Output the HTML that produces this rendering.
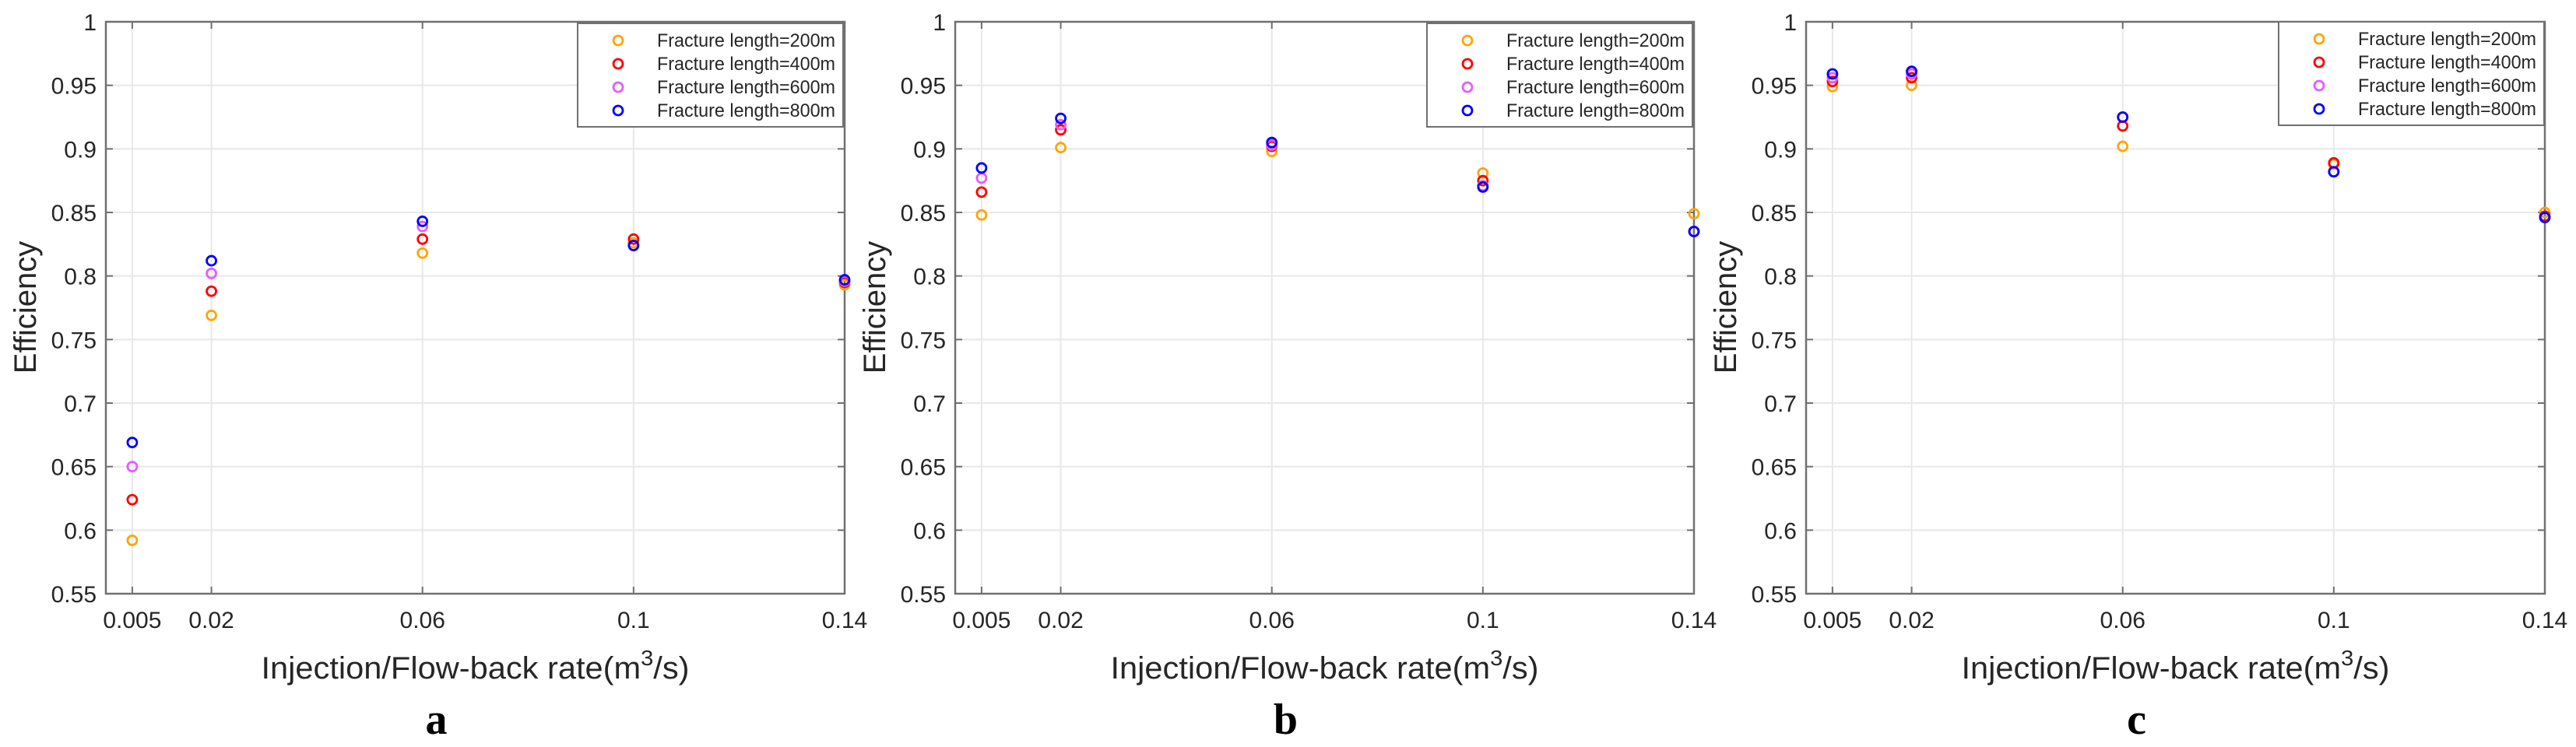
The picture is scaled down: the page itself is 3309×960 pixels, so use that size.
<!DOCTYPE html>
<html><head><meta charset="utf-8"><style>
html,body{margin:0;padding:0;background:#fff;}
svg{display:block;font-family:"Liberation Sans",Arial,sans-serif;}
</style></head><body>
<svg id="fig" xmlns="http://www.w3.org/2000/svg" width="3309" height="960" viewBox="0 0 3309 960"></svg>
<script>
const xTicks = [0.005, 0.02, 0.06, 0.1, 0.14];
const xTickLabels = ["0.005", "0.02", "0.06", "0.1", "0.14"];
const yTicks = [0.55, 0.6, 0.65, 0.7, 0.75, 0.8, 0.85, 0.9, 0.95, 1];
const yTickLabels = ["0.55", "0.6", "0.65", "0.7", "0.75", "0.8", "0.85", "0.9", "0.95", "1"];
const seriesNames = ["Fracture length=200m", "Fracture length=400m", "Fracture length=600m", "Fracture length=800m"];
const seriesColors = ["#ffa500", "#ff0000", "#e45cff", "#0000ff"];
const rates = [0.005, 0.02, 0.06, 0.1, 0.14];
const panelA200 = [0.592, 0.769, 0.818, 0.826, 0.793];
const panelA400 = [0.624, 0.788, 0.829, 0.829, 0.795];
const panelA600 = [0.650, 0.802, 0.839, 0.824, 0.796];
const panelA800 = [0.669, 0.812, 0.843, 0.824, 0.797];
const panelB200 = [0.848, 0.901, 0.898, 0.881, 0.849];
const panelB400 = [0.866, 0.915, 0.902, 0.875, 0.835];
const panelB600 = [0.877, 0.919, 0.903, 0.871, 0.835];
const panelB800 = [0.885, 0.924, 0.905, 0.870, 0.835];
const panelC200 = [0.949, 0.950, 0.902, 0.888, 0.850];
const panelC400 = [0.953, 0.956, 0.918, 0.889, 0.847];
const panelC600 = [0.956, 0.959, 0.925, 0.882, 0.846];
const panelC800 = [0.959, 0.961, 0.925, 0.882, 0.846];
const panelLetters = ["a", "b", "c"];

const NS = "http://www.w3.org/2000/svg";
const svg = document.getElementById("fig");
function mk(tag, attrs, parent) {
  const e = document.createElementNS(NS, tag);
  for (const k in attrs) e.setAttribute(k, attrs[k]);
  (parent || svg).appendChild(e);
  return e;
}
const panels = [
  {left: 136, data: [panelA200, panelA400, panelA600, panelA800], legTop: 30, legLeft: 742},
  {left: 1227, data: [panelB200, panelB400, panelB600, panelB800], legTop: 30, legLeft: 1833},
  {left: 2320, data: [panelC200, panelC400, panelC600, panelC800], legTop: 28, legLeft: 2927}
];
const W = 949, TOP = 28, BOT = 763;
panels.forEach((p, pi) => {
  const g = mk("g", {});
  
  
  const xs = v => p.left + (v / 0.14) * W;
  const ys = v => BOT - (v - 0.55) / 0.45 * (BOT - TOP);
  yTicks.forEach(t => {
    const l = mk("line", {x1: p.left, x2: p.left + W, y1: ys(t), y2: ys(t), stroke: "#e8e8e8", "stroke-width": 2}, g);
    
    
  });
  xTicks.forEach(t => {
    const l = mk("line", {x1: xs(t), x2: xs(t), y1: TOP, y2: BOT, stroke: "#e8e8e8", "stroke-width": 2}, g);
    
    
  });
  const box = mk("rect", {x: p.left, y: TOP, width: W, height: BOT - TOP, fill: "none", stroke: "#707070", "stroke-width": 2.5}, g);
  
  
  yTicks.forEach((t, i) => {
    mk("line", {x1: p.left, x2: p.left + 9, y1: ys(t), y2: ys(t), stroke: "#707070", "stroke-width": 2}, g);
    mk("line", {x1: p.left + W - 9, x2: p.left + W, y1: ys(t), y2: ys(t), stroke: "#707070", "stroke-width": 2}, g);
    const tx = mk("text", {x: p.left - 12, y: ys(t) + 11, "text-anchor": "end", "font-size": 30, fill: "#262626"}, g);
    tx.textContent = yTickLabels[i];
    
    
  });
  xTicks.forEach((t, i) => {
    mk("line", {x1: xs(t), x2: xs(t), y1: BOT - 9, y2: BOT, stroke: "#707070", "stroke-width": 2}, g);
    mk("line", {x1: xs(t), x2: xs(t), y1: TOP, y2: TOP + 9, stroke: "#707070", "stroke-width": 2}, g);
    const tx = mk("text", {x: xs(t), y: 807, "text-anchor": "middle", "font-size": 30, fill: "#262626"}, g);
    tx.textContent = xTickLabels[i];
    
    
  });
  const yl = mk("text", {x: 0, y: 0, "text-anchor": "middle", "font-size": 40, fill: "#262626", transform: `translate(${p.left - 90},395) rotate(-90)`}, g);
  yl.textContent = "Efficiency";
  
  
  const cx = p.left + W / 2;
  const xl = mk("text", {x: cx - 275, y: 872, "font-size": 40, fill: "#262626", textLength: 550, lengthAdjust: "spacingAndGlyphs"}, g);
  
  
  const t1 = mk("tspan", {}, xl); t1.textContent = "Injection/Flow-back rate(m";
  const t2 = mk("tspan", {dy: -17, "font-size": 28}, xl); t2.textContent = "3";
  const t3 = mk("tspan", {dy: 17}, xl); t3.textContent = "/s)";
  const letter = mk("text", {x: cx - 50, y: 943, "text-anchor": "middle", "font-size": 56, "font-weight": "bold", "font-family": "Liberation Serif, serif", fill: "#000"}, g);
  letter.textContent = panelLetters[pi];
  
  
  p.data.forEach((arr, si) => {
    arr.forEach((v, k) => {
      const c = mk("circle", {cx: xs(rates[k]), cy: ys(v), r: 6, fill: "none", stroke: seriesColors[si], "stroke-width": 2.8}, g);
      
      
    });
  });
  const lg = mk("g", {}, g);
  
  
  mk("rect", {x: p.legLeft, y: p.legTop, width: 341, height: 133, fill: "#fff", stroke: "#707070", "stroke-width": 2}, lg);
  seriesNames.forEach((n, si) => {
    const yy = p.legTop + 22 + si * 30;
    const mc = mk("circle", {cx: p.legLeft + 52, cy: yy, r: 6, fill: "none", stroke: seriesColors[si], "stroke-width": 2.8}, lg);
    
    
    const lt = mk("text", {x: p.legLeft + 102, y: yy + 8, "font-size": 24, fill: "#262626", textLength: 229, lengthAdjust: "spacingAndGlyphs"}, lg);
    lt.textContent = n;
    
    
  });
});
</script>
</body></html>
